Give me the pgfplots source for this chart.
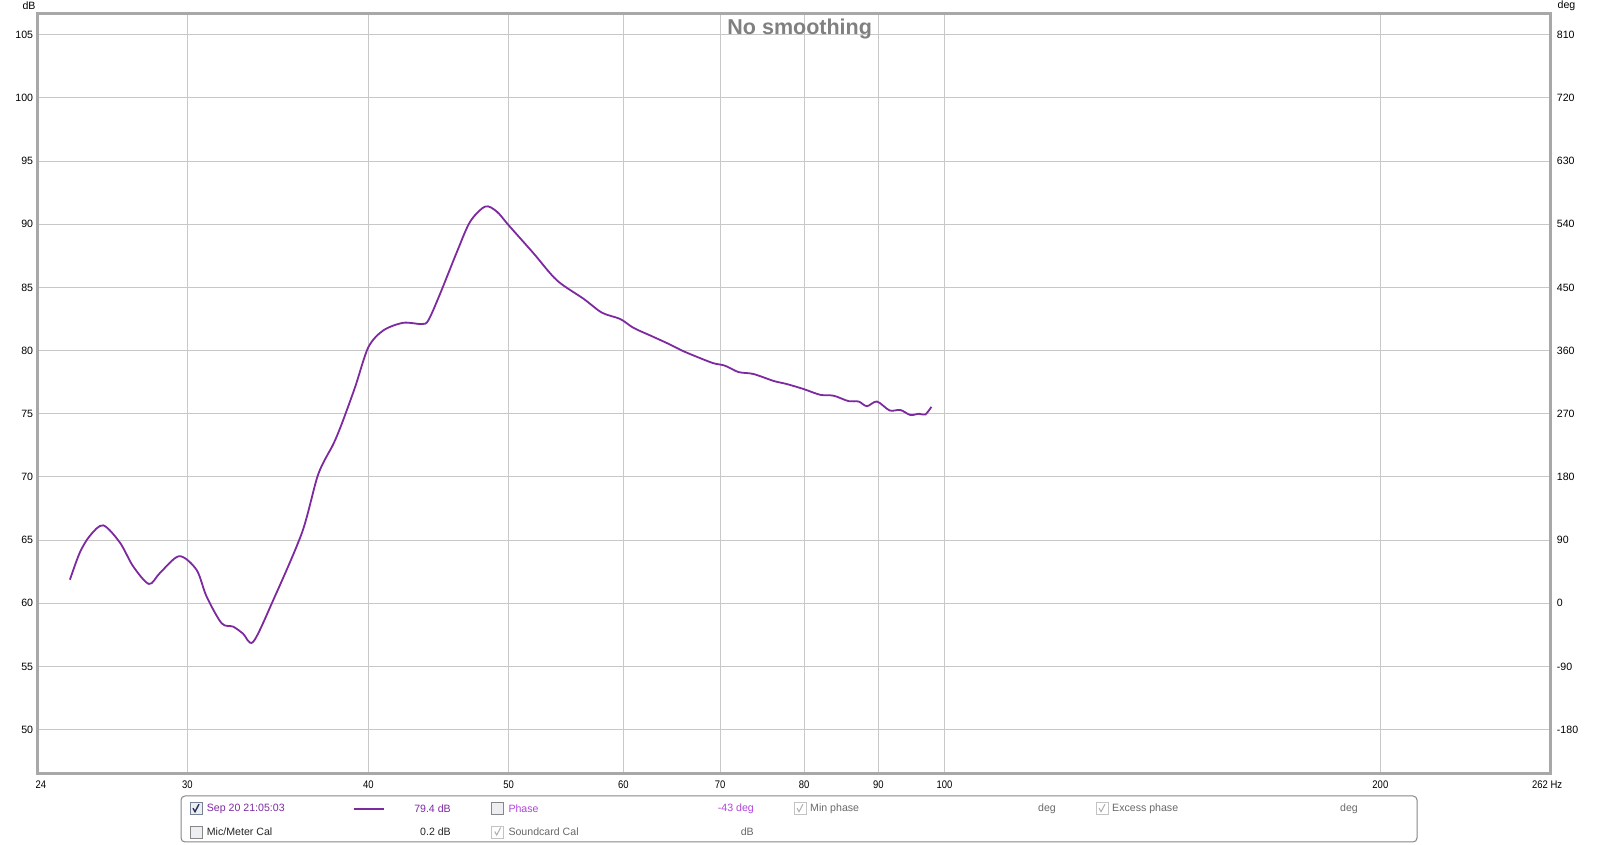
\documentclass[border=0pt]{standalone}
\usepackage{pgfplots}
\pgfplotsset{compat=1.18}
\usepackage{fontspec}
\setmainfont{Liberation Sans}
\newfontfamily\narrowfont[FakeStretch=0.86]{Liberation Sans}
\definecolor{curvec}{RGB}{125,42,160}
\definecolor{phasec}{RGB}{176,68,220}
\definecolor{framec}{RGB}{168,168,168}
\definecolor{gridc}{RGB}{200,200,200}
\definecolor{titlec}{RGB}{128,128,128}
\definecolor{legb}{RGB}{135,135,135}
\definecolor{cbb}{RGB}{120,130,150}
\definecolor{cbf}{RGB}{236,238,242}
\definecolor{checkc}{RGB}{40,50,90}
\definecolor{disb}{RGB}{195,195,195}
\definecolor{disc}{RGB}{175,175,175}
\definecolor{greytext}{RGB}{105,105,105}

\pgfplotstableread{
f db
24.89 61.87
25.28 64.0
25.69 65.34
26.24 66.17
26.95 64.8
27.52 62.93
28.22 61.53
28.72 62.4
29.61 63.73
30.44 62.65
30.93 60.54
31.68 58.42
32.27 58.15
32.78 57.6
33.31 56.95
34.39 60.25
36.0 65.6
36.94 70.2
37.84 72.6
38.35 74.2
39.17 77.1
40.00 80.26
40.97 81.6
42.29 82.2
43.55 82.1
44.01 82.4
44.84 84.5
46.05 87.8
47.03 90.2
48.17 91.4
49.07 91.0
50.02 89.9
52.02 87.7
53.99 85.56
56.33 84.1
58.0 83.0
59.71 82.5
60.98 81.8
62.62 81.2
64.30 80.6
66.03 79.95
67.81 79.4
69.26 79.0
70.56 78.8
72.07 78.3
73.80 78.15
76.20 77.6
77.84 77.35
79.92 76.96
82.07 76.5
83.83 76.43
85.85 76.0
87.23 75.97
88.40 75.6
89.82 75.97
91.65 75.26
93.22 75.3
94.72 74.9
95.98 75.0
97.00 74.95
97.94 75.55
}\spl

\newcommand{\cbchecked}[2]{\begin{scope}[shift={(#1pt,#2pt)}]
\draw[draw=cbb, fill=cbf, line width=0.8pt] (0pt,-6pt) rectangle (12pt,6pt);
\draw[line width=1.4pt, draw=checkc] (3pt,0.5pt)--(5pt,-3pt)--(9pt,4.5pt);
\end{scope}}
\newcommand{\cbempty}[2]{\begin{scope}[shift={(#1pt,#2pt)}]
\draw[draw=legb, fill=cbf, line width=0.8pt] (0pt,-6pt) rectangle (12pt,6pt);
\end{scope}}
\newcommand{\cbdis}[2]{\begin{scope}[shift={(#1pt,#2pt)}]
\draw[draw=disb, fill=white, line width=0.8pt] (0pt,-6pt) rectangle (12pt,6pt);
\draw[line width=1pt, draw=disc] (3pt,0.5pt)--(5pt,-3pt)--(9pt,4.5pt);
\end{scope}}

\begin{document}
\begin{tikzpicture}
\path[use as bounding box] (0pt,0pt) rectangle (1600pt,845pt);
\fill[white] (0pt,0pt) rectangle (1600pt,845pt);

\begin{axis}[
  at={(37.8pt,71.5pt)}, anchor=south west,
  scale only axis, width=1512.4pt, height=759.5pt,
  xmode=log, xmin=23.65, xmax=262, ymin=46.53, ymax=106.64,
  xtick={30,40,50,60,70,80,90,100,200},
  xticklabels={30,40,50,60,70,80,90,100,200},
  minor xtick={},
  ytick={50,55,...,105},
  yticklabels={50,55,60,65,70,75,80,85,90,95,100,105},
  grid=major, major grid style={draw=gridc, line width=1pt},
  major tick length=0pt,
  axis line style={draw=framec, line width=3pt},
  /pgf/number format/assume math mode=true,
  tick label style={font=\fontsize{10.6}{12}\selectfont, inner sep=0pt, text=black},
  yticklabel style={anchor=east, xshift=-4.5pt},
  xticklabel style={anchor=center, yshift=-11.5pt, font=\narrowfont\fontsize{11}{12}\selectfont},
]
\addplot[curvec, line width=1.8pt, smooth, tension=0.5] table[x=f, y=db] {\spl};
\end{axis}

\begin{axis}[
  at={(37.8pt,71.5pt)}, anchor=south west,
  scale only axis, width=1512.4pt, height=759.5pt,
  xmode=log, xmin=23.65, xmax=262, ymin=-242.46, ymax=839.52,
  hide x axis, axis y line*=right, y axis line style={draw=none},
  ytick={-180,-90,0,90,180,270,360,450,540,630,720,810},
  yticklabels={-180,-90,0,90,180,270,360,450,540,630,720,810},
  major tick length=0pt,
  /pgf/number format/assume math mode=true,
  yticklabel style={anchor=west, xshift=6.5pt, inner sep=0pt, text=black, font=\fontsize{10.6}{12}\selectfont},
]
\addplot[draw=none] coordinates {(30,0)};
\end{axis}

% axis end labels and units
\node[font=\narrowfont\fontsize{11}{12}\selectfont, inner sep=0pt] at (41pt,60pt) {24};
\node[anchor=west, font=\narrowfont\fontsize{11}{12}\selectfont, inner sep=0pt] at (1532pt,60pt) {262 Hz};
\node[font=\fontsize{10.6}{12}\selectfont, inner sep=0pt] at (29pt,839pt) {dB};
\node[font=\fontsize{10.6}{12}\selectfont, inner sep=0pt] at (1566.5pt,839.5pt) {deg};

% title
\node[anchor=base, text=titlec, font=\bfseries\fontsize{21.5}{24}\selectfont, inner sep=0pt] at (799.7pt,810.3pt) {No smoothing};

% legend panel
\draw[draw=legb, rounded corners=4pt, line width=1pt] (181pt,3pt) rectangle (1417pt,49pt);
\begin{scope}[every node/.style={font=\fontsize{10.6}{12}\selectfont, inner sep=0pt}]
\cbchecked{190}{36.3}
\node[anchor=west, text=curvec] at (206.7pt,36.3pt) {Sep 20 21:05:03};
\draw[curvec, line width=2pt] (354pt,36.3pt) -- (384.3pt,36.3pt);
\node[anchor=east, text=curvec] at (451pt,36.3pt) {79.4 dB};
\cbempty{491.7}{36.3}
\node[anchor=west, text=phasec] at (508.3pt,36.3pt) {Phase};
\node[anchor=east, text=phasec] at (754pt,36.3pt) {-43 deg};
\cbdis{794}{36.3}
\node[anchor=west, text=greytext] at (810pt,36.3pt) {Min phase};
\node[anchor=east, text=greytext] at (1056pt,36.3pt) {deg};
\cbdis{1096}{36.3}
\node[anchor=west, text=greytext] at (1112pt,36.3pt) {Excess phase};
\node[anchor=east, text=greytext] at (1358pt,36.3pt) {deg};

\cbempty{190}{13}
\node[anchor=west, text=black!85] at (206.7pt,13pt) {Mic/Meter Cal};
\node[anchor=east, text=black!85] at (451pt,13pt) {0.2 dB};
\cbdis{491.7}{13}
\node[anchor=west, text=greytext] at (508.3pt,13pt) {Soundcard Cal};
\node[anchor=east, text=greytext] at (754pt,13pt) {dB};
\end{scope}
\end{tikzpicture}
\end{document}
